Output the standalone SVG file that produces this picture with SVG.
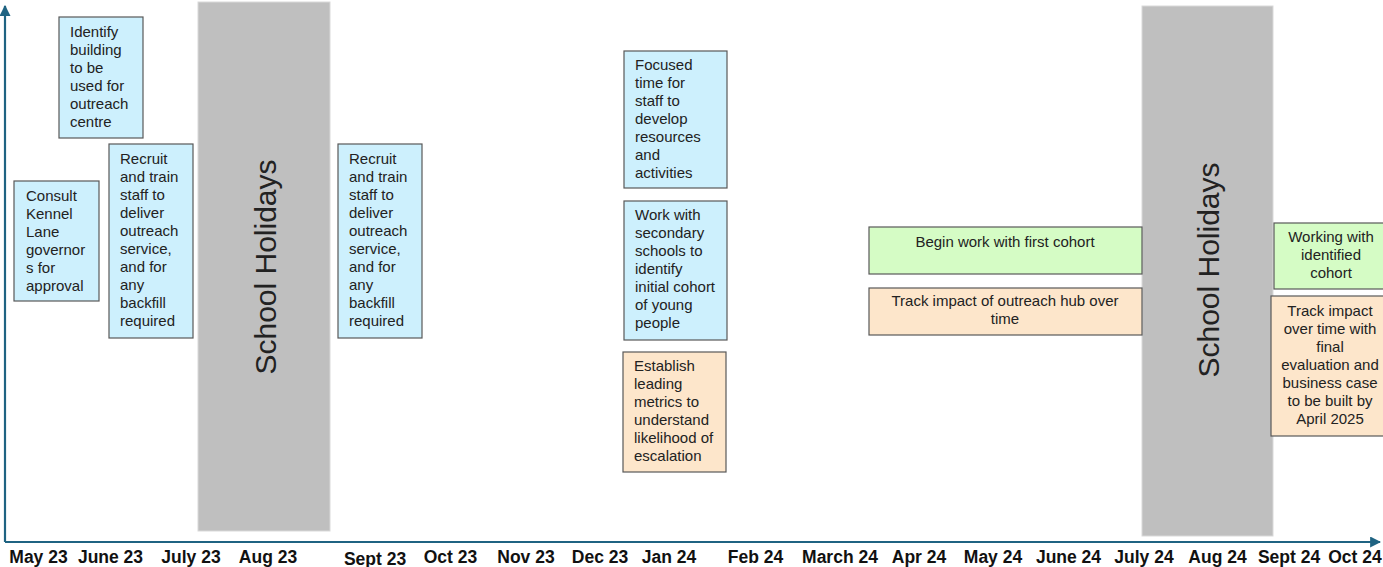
<svg xmlns="http://www.w3.org/2000/svg" width="1383" height="567" viewBox="0 0 1383 567">
<style>
.box{stroke:#595959;stroke-width:1.2}
.blue{fill:#cdf0fd}
.green{fill:#d5fcc5}
.orange{fill:#fde6cb}
.hol{fill:#bfbfbf;stroke:#d9d9d9;stroke-width:1}
.t{font-family:"Liberation Sans",Arial,sans-serif;font-size:15px;fill:#222}
.c{text-anchor:middle}
.holt{font-family:"Liberation Sans",Arial,sans-serif;font-size:30px;fill:#222;text-anchor:middle;dominant-baseline:central}
.m{font-family:"Liberation Sans",Arial,sans-serif;font-size:17.5px;font-weight:bold;fill:#111;text-anchor:middle}
.axis{stroke:#1f6382;stroke-width:2.2;fill:none}
</style>
<defs>
<marker id="ah" viewBox="0 0 10 10" refX="9" refY="5" markerWidth="5" markerHeight="5" orient="auto" markerUnits="strokeWidth">
<path d="M0,0 L10,5 L0,10 z" fill="#1f6382"/>
</marker>
</defs>
<rect width="1383" height="567" fill="#fff"/>

<g id="holiday1">
<rect class="hol" x="198" y="2" width="132" height="529"/>
<text class="holt" transform="translate(265,267) rotate(-90)">School Holidays</text>
</g>
<g id="holiday2">
<rect class="hol" x="1142" y="6" width="131" height="530"/>
<text class="holt" transform="translate(1208,270) rotate(-90)">School Holidays</text>
</g>

<g id="axes">
<path class="axis" d="M5,542 L5,6" marker-end="url(#ah)"/>
<path class="axis" d="M5,542 L1380,542" marker-end="url(#ah)"/>
</g>

<g id="identify">
<rect class="box blue" x="59" y="17" width="84" height="121"/>
<text class="t" x="70" y="37">Identify</text>
<text class="t" x="70" y="55">building</text>
<text class="t" x="70" y="73">to be</text>
<text class="t" x="70" y="91">used for</text>
<text class="t" x="70" y="109">outreach</text>
<text class="t" x="70" y="127">centre</text>
</g>

<g id="consult">
<rect class="box blue" x="14" y="181" width="85" height="120"/>
<text class="t" x="26" y="201">Consult</text>
<text class="t" x="26" y="219">Kennel</text>
<text class="t" x="26" y="237">Lane</text>
<text class="t" x="26" y="255">governor</text>
<text class="t" x="26" y="273">s for</text>
<text class="t" x="26" y="291">approval</text>
</g>

<g id="recruit1">
<rect class="box blue" x="109" y="144" width="84" height="194"/>
<text class="t" x="120" y="164">Recruit</text>
<text class="t" x="120" y="182">and train</text>
<text class="t" x="120" y="200">staff to</text>
<text class="t" x="120" y="218">deliver</text>
<text class="t" x="120" y="236">outreach</text>
<text class="t" x="120" y="254">service,</text>
<text class="t" x="120" y="272">and for</text>
<text class="t" x="120" y="290">any</text>
<text class="t" x="120" y="308">backfill</text>
<text class="t" x="120" y="326">required</text>
</g>

<g id="recruit2">
<rect class="box blue" x="338" y="144" width="84" height="194"/>
<text class="t" x="349" y="164">Recruit</text>
<text class="t" x="349" y="182">and train</text>
<text class="t" x="349" y="200">staff to</text>
<text class="t" x="349" y="218">deliver</text>
<text class="t" x="349" y="236">outreach</text>
<text class="t" x="349" y="254">service,</text>
<text class="t" x="349" y="272">and for</text>
<text class="t" x="349" y="290">any</text>
<text class="t" x="349" y="308">backfill</text>
<text class="t" x="349" y="326">required</text>
</g>

<g id="focused">
<rect class="box blue" x="624" y="51" width="103" height="137"/>
<text class="t" x="635" y="70">Focused</text>
<text class="t" x="635" y="88">time for</text>
<text class="t" x="635" y="106">staff to</text>
<text class="t" x="635" y="124">develop</text>
<text class="t" x="635" y="142">resources</text>
<text class="t" x="635" y="160">and</text>
<text class="t" x="635" y="178">activities</text>
</g>

<g id="workwith">
<rect class="box blue" x="624" y="201" width="103" height="139"/>
<text class="t" x="635" y="220">Work with</text>
<text class="t" x="635" y="238">secondary</text>
<text class="t" x="635" y="256">schools to</text>
<text class="t" x="635" y="274">identify</text>
<text class="t" x="635" y="292">initial cohort</text>
<text class="t" x="635" y="310">of young</text>
<text class="t" x="635" y="328">people</text>
</g>

<g id="establish">
<rect class="box orange" x="623" y="352" width="103" height="120"/>
<text class="t" x="634" y="371">Establish</text>
<text class="t" x="634" y="389">leading</text>
<text class="t" x="634" y="407">metrics to</text>
<text class="t" x="634" y="425">understand</text>
<text class="t" x="634" y="443">likelihood of</text>
<text class="t" x="634" y="461">escalation</text>
</g>

<g id="begin">
<rect class="box green" x="869" y="227" width="273" height="47"/>
<text class="t c" x="1005" y="247">Begin work with first cohort</text>
</g>

<g id="trackhub">
<rect class="box orange" x="869" y="288" width="273" height="47"/>
<text class="t c" x="1005" y="306">Track impact of outreach hub over</text>
<text class="t c" x="1005" y="324">time</text>
</g>

<g id="working">
<rect class="box green" x="1274" y="223" width="112" height="66"/>
<text class="t c" x="1331" y="242">Working with</text>
<text class="t c" x="1331" y="260">identified</text>
<text class="t c" x="1331" y="278">cohort</text>
</g>

<g id="trackfinal">
<rect class="box orange" x="1271" y="296" width="115" height="140"/>
<text class="t c" x="1330" y="316">Track impact</text>
<text class="t c" x="1330" y="334">over time with</text>
<text class="t c" x="1330" y="352">final</text>
<text class="t c" x="1330" y="370">evaluation and</text>
<text class="t c" x="1330" y="388">business case</text>
<text class="t c" x="1330" y="406">to be built by</text>
<text class="t c" x="1330" y="424">April 2025</text>
</g>

<g id="months">
<text class="m" x="38.5" y="563">May 23</text>
<text class="m" x="110.5" y="563">June 23</text>
<text class="m" x="191" y="563">July 23</text>
<text class="m" x="268" y="563">Aug 23</text>
<text class="m" x="375" y="564.5">Sept 23</text>
<text class="m" x="450.5" y="563">Oct 23</text>
<text class="m" x="526" y="563">Nov 23</text>
<text class="m" x="600" y="563">Dec 23</text>
<text class="m" x="669" y="563">Jan 24</text>
<text class="m" x="755.5" y="563">Feb 24</text>
<text class="m" x="840" y="563">March 24</text>
<text class="m" x="919" y="563">Apr 24</text>
<text class="m" x="993" y="563">May 24</text>
<text class="m" x="1068.5" y="563">June 24</text>
<text class="m" x="1144" y="563">July 24</text>
<text class="m" x="1217.5" y="563">Aug 24</text>
<text class="m" x="1289" y="563">Sept 24</text>
<text class="m" x="1355" y="563">Oct 24</text>
</g>
</svg>
